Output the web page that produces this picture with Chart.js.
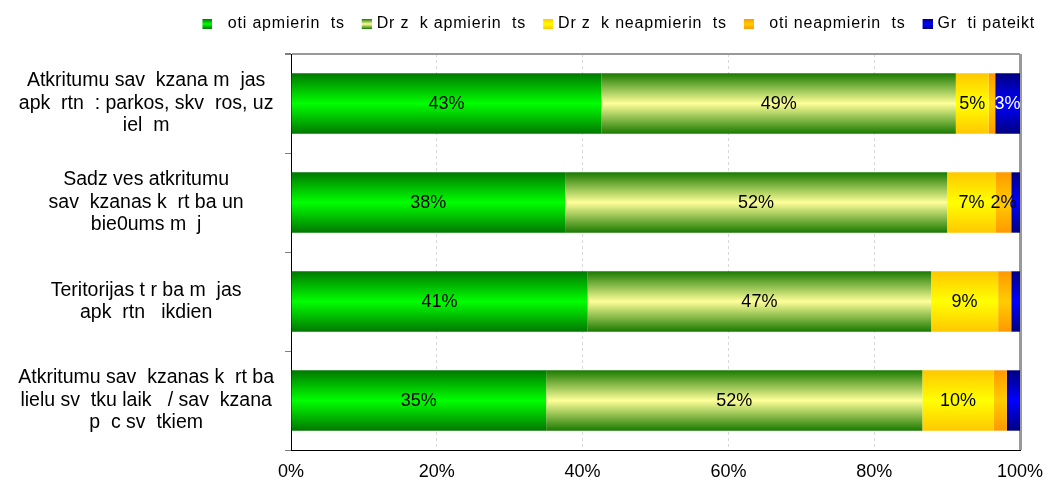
<!DOCTYPE html>
<html>
<head>
<meta charset="utf-8">
<script src="https://cdn.jsdelivr.net/npm/chart.js@4/dist/chart.umd.min.js"></script>
<style>
  html, body { margin: 0; padding: 0; background: #fff; }
  #wrap { width: 1049px; height: 483px; }
</style>
</head>
<body>
<div id="wrap"><canvas id="myChart" width="1049" height="483"></canvas></div>
<script>
// categories (multi-line labels, as in the picture)
const categories = [
    ['Atkritumu sav  kzana m  jas', 'apk  rtn  : parkos, skv  ros, uz', 'iel  m'],
    ['Sadz ves atkritumu', 'sav  kzanas k  rt ba un', 'bie0ums m  j'],
    ['Teritorijas t r ba m  jas', 'apk  rtn   ikdien'],
    ['Atkritumu sav  kzanas k  rt ba', 'lielu sv  tku laik   / sav  kzana', 'p  c sv  tkiem']
];
const seriesNames = ['  oti apmierin  ts', 'Dr z  k apmierin  ts', 'Dr z  k neapmierin  ts', '  oti neapmierin  ts', 'Gr  ti pateikt'];
const veryPleased   = [42.6, 37.6, 40.7, 35.0];
const ratherPleased = [48.6, 52.4, 47.1, 51.6];
const ratherNot     = [4.5, 6.7, 9.2, 9.8];
const veryNot       = [0.9, 2.1, 1.8, 1.8];
const cantSay       = [3.4, 1.2, 1.2, 1.8];
const xTicks = [0, 20, 40, 60, 80, 100];

// gradient colours: [edge, middle]
const palette = [
    ['#007800', '#00ff00'],
    ['#1a7a00', '#ffff99'],
    ['#ffc800', '#ffff00'],
    ['#ff9900', '#ffcc00'],
    ['#000080', '#0000ff']
];
const CAT_PCT = 0.61;
const FONT = '"Liberation Sans", Arial, sans-serif';

function barGradient(ctx, edge, mid) {
    const chart = ctx.chart;
    const y = chart.scales && chart.scales.y;
    if (!y || ctx.type !== 'data' || !y.height) return mid;
    const c = y.getPixelForValue(ctx.dataIndex);
    const half = (y.height / categories.length) * CAT_PCT / 2;
    const g = chart.ctx.createLinearGradient(0, c - half, 0, c + half);
    g.addColorStop(0, edge);
    g.addColorStop(0.5, mid);
    g.addColorStop(1, edge);
    return g;
}

// small gradient swatches for the legend (square sits on the right of the image)
function swatch(edge, mid) {
    const c = document.createElement('canvas');
    c.width = 16; c.height = 10;
    const x = c.getContext('2d');
    const g = x.createLinearGradient(0, 0, 0, 10);
    g.addColorStop(0, edge); g.addColorStop(0.5, mid); g.addColorStop(1, edge);
    x.fillStyle = g;
    x.fillRect(6, 0, 10, 10);
    return c;
}

const values = [veryPleased, ratherPleased, ratherNot, veryNot, cantSay];
const datasets = values.map((vals, i) => ({
    label: seriesNames[i],
    data: vals,
    backgroundColor: (ctx) => barGradient(ctx, palette[i][0], palette[i][1]),
    borderWidth: 0,
    pointStyle: swatch(palette[i][0], palette[i][1])
}));

// percentage text inside each segment
const segLabels = {
    id: 'segLabels',
    afterDatasetsDraw(chart) {
        const ctx = chart.ctx;
        ctx.save();
        ctx.font = '18px ' + FONT;
        ctx.textAlign = 'center';
        ctx.textBaseline = 'middle';
        chart.data.datasets.forEach((ds, di) => {
            const meta = chart.getDatasetMeta(di);
            meta.data.forEach((bar, i) => {
                const v = ds.data[i];
                if (v < 2) return;
                ctx.fillStyle = di === 4 ? '#ffffff' : '#000000';
                ctx.fillText(Math.round(v) + '%', (bar.x + bar.base) / 2, bar.y + 1);
            });
        });
        ctx.restore();
    }
};

const ctx = document.getElementById('myChart').getContext('2d');
const chart = new Chart(ctx, {
    type: 'bar',
    data: { labels: categories, datasets: datasets },
    options: {
        indexAxis: 'y',
        responsive: false,
        animation: false,
        layout: { padding: 0 },
        datasets: { bar: { barPercentage: 1, categoryPercentage: CAT_PCT } },
        plugins: {
            tooltip: { enabled: false },
            legend: {
                position: 'top',
                align: 'end',
                labels: {
                    usePointStyle: true,
                    pointStyleWidth: 10,
                    font: { family: FONT, size: 16 },
                    color: '#000',
                    padding: 14
                }
            }
        },
        scales: {
            x: {
                stacked: true,
                min: 0,
                max: 100,
                afterBuildTicks: (scale) => { scale.ticks = xTicks.map(v => ({ value: v })); },
                afterFit: (scale) => { scale.height = 33; scale.paddingRight = 29; },
                ticks: {
                    callback: (v) => v + '%',
                    font: { family: FONT, size: 18 },
                    color: '#000',
                    padding: 11
                },
                grid: {
                    drawTicks: false,
                    color: (c) => c.tick && c.tick.value === 100 ? '#999999' : (c.tick && c.tick.value === 0 ? 'rgba(0,0,0,0)' : '#d8d8d8'),
                    lineWidth: (c) => c.tick && c.tick.value === 100 ? 3 : 1
                },
                border: {
                    color: '#000',
                    width: 1,
                    dash: (c) => c.tick && c.tick.value === 100 ? [] : [3, 3]
                }
            },
            y: {
                stacked: true,
                afterFit: (scale) => {
                    scale.width = 291;
                    scale.paddingTop = 54;
                    scale.paddingBottom = 0;
                },
                ticks: {
                    crossAlign: 'center',
                    font: { family: FONT, size: 19.5, lineHeight: 1.16 },
                    color: '#000',
                    padding: 11
                },
                grid: {
                    offset: true,
                    drawOnChartArea: true,
                    tickLength: 6,
                    tickColor: '#808080',
                    color: (c) => c.index === 0 ? '#999999' : 'rgba(0,0,0,0)',
                    lineWidth: (c) => c.index === 0 ? 2 : 1
                },
                border: { color: '#000', width: 1 }
            }
        }
    },
    plugins: [segLabels]
});

// the legend text in the picture is drawn wide and sits higher; add letter spacing and lift it
const legend = chart.legend;
const origFit = legend.fit.bind(legend);
const origDraw = legend.draw.bind(legend);
legend.fit = function () {
    const c = chart.ctx;
    c.save();
    c.letterSpacing = '0.8px';
    origFit();
    c.restore();
};
legend.draw = function () {
    const c = chart.ctx;
    c.save();
    c.letterSpacing = '0.8px';
    c.translate(0, -12);
    origDraw();
    c.restore();
};
chart.update();
</script>
</body>
</html>
